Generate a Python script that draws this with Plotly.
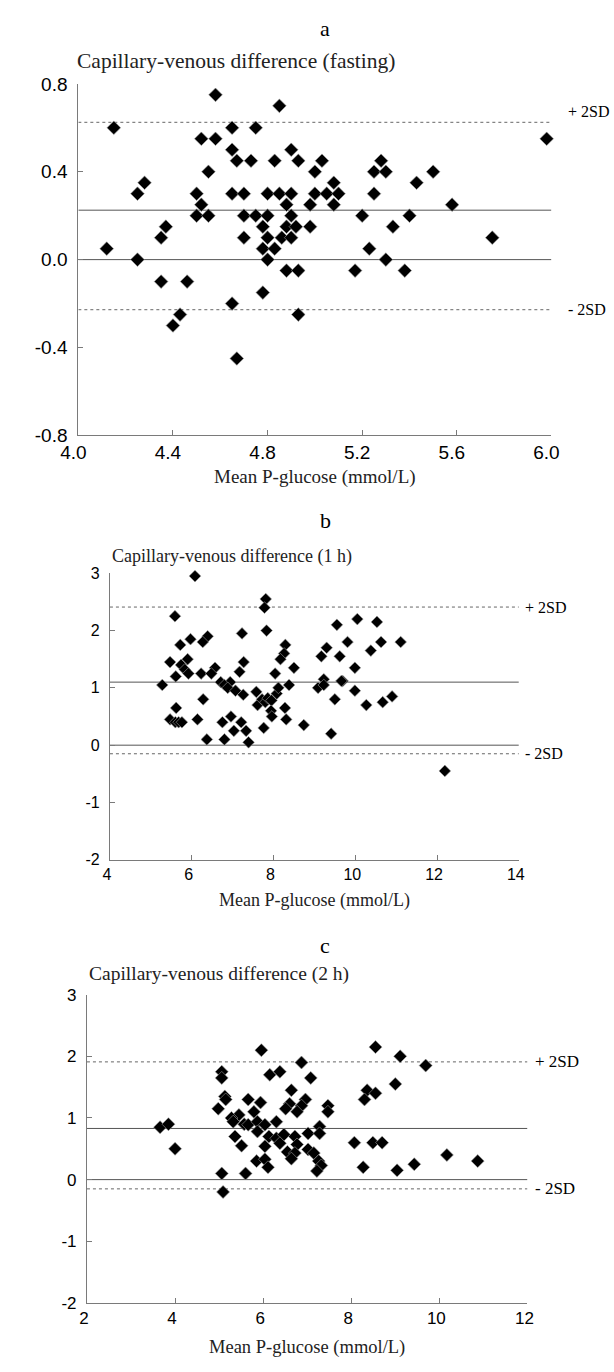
import plotly.graph_objects as go

# ---------------- data ----------------
a_x = [4.15, 4.58, 4.85, 4.65, 4.75, 5.98, 4.52, 4.58, 4.65, 4.90, 4.67, 4.73, 4.83, 4.93, 5.03, 5.28,
       4.55, 5.00, 5.25, 5.30, 5.50, 4.28, 5.08, 5.43, 4.25, 4.50, 4.65, 4.70, 4.80, 4.85, 4.90, 5.00,
       5.05, 5.10, 5.25, 4.52, 4.88, 4.98, 5.08, 5.58, 4.50, 4.55, 4.70, 4.75, 4.80, 4.90, 5.20, 5.40,
       4.37, 4.78, 4.88, 4.92, 4.98, 5.33, 4.12, 4.25, 4.35, 4.35, 4.46, 4.43, 4.40, 4.70, 4.78, 4.80,
       4.83, 4.80, 4.86, 4.90, 4.88, 4.93, 4.93, 4.78, 4.65, 4.67, 5.75, 5.23, 5.30, 5.17, 5.38]
a_y = [0.60, 0.75, 0.70, 0.60, 0.60, 0.55, 0.55, 0.55, 0.50, 0.50, 0.45, 0.45, 0.45, 0.45, 0.45, 0.45,
       0.40, 0.40, 0.40, 0.40, 0.40, 0.35, 0.35, 0.35, 0.30, 0.30, 0.30, 0.30, 0.30, 0.30, 0.30, 0.30,
       0.30, 0.30, 0.30, 0.25, 0.25, 0.25, 0.25, 0.25, 0.20, 0.20, 0.20, 0.20, 0.20, 0.20, 0.20, 0.20,
       0.15, 0.15, 0.15, 0.15, 0.15, 0.15, 0.05, 0.00, 0.10, -0.10, -0.10, -0.25, -0.30, 0.10, 0.05, 0.10,
       0.05, 0.00, 0.10, 0.10, -0.05, -0.05, -0.25, -0.15, -0.20, -0.45, 0.10, 0.05, 0.00, -0.05, -0.05]
a_mean, a_plus, a_minus = 0.225, 0.625, -0.228

b_x = [6.08, 7.81, 7.78, 5.59, 7.83, 10.05, 10.53, 9.55, 7.23, 5.97, 6.39, 6.27, 5.72, 8.29, 9.81, 10.63,
       11.11, 9.30, 10.38, 8.26, 9.17, 9.62, 8.17, 5.90, 5.47, 7.27, 5.74, 5.83, 6.57, 8.50, 9.99, 5.92,
       6.23, 6.48, 7.17, 8.04, 5.61, 6.71, 6.94, 9.23, 9.69, 5.28, 6.80, 6.88, 7.07, 7.26, 6.28, 5.62,
       5.47, 5.60, 5.68, 5.76, 6.14, 6.75, 6.96, 7.21, 7.03, 7.33, 6.37, 6.80, 7.39, 7.76, 7.58, 7.61,
       7.72, 7.80, 7.86, 7.95, 8.08, 8.12, 7.94, 7.96, 8.28, 8.31, 8.38, 8.74, 9.09, 9.23, 9.50, 9.66,
       9.99, 10.27, 10.67, 10.90, 9.41, 12.19]
b_y = [2.95, 2.55, 2.40, 2.25, 2.00, 2.20, 2.15, 2.10, 1.95, 1.85, 1.90, 1.80, 1.75, 1.75, 1.80, 1.80,
       1.80, 1.70, 1.65, 1.60, 1.55, 1.55, 1.50, 1.50, 1.45, 1.45, 1.40, 1.32, 1.35, 1.35, 1.35, 1.25,
       1.25, 1.25, 1.28, 1.25, 1.20, 1.10, 1.10, 1.15, 1.12, 1.05, 1.05, 1.00, 0.95, 0.88, 0.80, 0.65,
       0.45, 0.40, 0.40, 0.40, 0.45, 0.40, 0.50, 0.40, 0.25, 0.25, 0.10, 0.10, 0.05, 0.30, 0.93, 0.70,
       0.80, 0.75, 0.82, 0.78, 0.90, 1.00, 0.60, 0.50, 0.65, 0.45, 1.05, 0.35, 1.00, 1.05, 0.80, 1.12,
       0.95, 0.70, 0.75, 0.85, 0.20, -0.45]
b_mean, b_plus, b_minus = 1.10, 2.41, -0.15

c_x = [5.96, 8.55, 9.11, 6.87, 9.69, 5.06, 5.06, 6.15, 6.38, 7.08, 9.00, 8.36, 8.55, 8.30, 6.64, 5.13,
       5.15, 5.66, 5.94, 6.96, 6.87, 6.60, 6.77, 6.51, 5.79, 4.98, 7.47, 7.47, 5.45, 5.28, 5.32, 5.57,
       5.66, 5.87, 6.04, 6.30, 3.66, 3.85, 4.00, 5.36, 5.51, 5.87, 6.04, 6.13, 6.30, 6.47, 6.38, 6.72,
       6.77, 6.55, 6.72, 6.64, 7.02, 7.28, 7.28, 7.02, 7.15, 7.26, 7.32, 7.22, 5.85, 6.04, 6.11, 5.06,
       5.60, 5.09, 8.07, 8.49, 8.70, 8.27, 9.04, 9.43, 10.17, 10.87]
c_y = [2.10, 2.15, 2.00, 1.90, 1.85, 1.75, 1.65, 1.70, 1.75, 1.65, 1.55, 1.45, 1.40, 1.30, 1.45, 1.35,
       1.30, 1.30, 1.25, 1.30, 1.20, 1.23, 1.10, 1.15, 1.10, 1.15, 1.20, 1.10, 1.05, 1.00, 0.94, 0.90,
       0.89, 0.94, 0.89, 0.94, 0.85, 0.90, 0.50, 0.70, 0.55, 0.78, 0.54, 0.70, 0.67, 0.73, 0.59, 0.70,
       0.57, 0.45, 0.43, 0.34, 0.75, 0.86, 0.75, 0.49, 0.43, 0.30, 0.23, 0.14, 0.30, 0.33, 0.20, 0.10,
       0.10, -0.20, 0.60, 0.60, 0.60, 0.20, 0.15, 0.25, 0.40, 0.30]
c_mean, c_plus, c_minus = 0.83, 1.91, -0.15

a_yticks = [-0.8, -0.4, 0.0, 0.4, 0.8]
a_yticktext = ["-0.8", "-0.4", "0.0", "0.4", "0.8"]
a_xticks = [4.0, 4.4, 4.8, 5.2, 5.6, 6.0]
a_xticktext = ["4.0", "4.4", "4.8", "5.2", "5.6", "6.0"]
bc_yticks = [-2, -1, 0, 1, 2, 3]
bc_yticktext = ["-2", "-1", "0", "1", "2", "3"]
b_xticks = [4, 6, 8, 10, 12, 14]
c_xticks = [2, 4, 6, 8, 10, 12]

panel_letters = ["a", "b", "c"]
captions = ["Capillary-venous difference (fasting)",
            "Capillary-venous difference (1 h)",
            "Capillary-venous difference (2 h)"]
xtitle = "Mean P-glucose (mmol/L)"

# ---------------- layout geometry ----------------
W, H = 614, 1372
def px(x): return x / W
def py(y): return 1 - y / H

AX = "#7a7a7a"
SERIF = "Liberation Serif, Times New Roman, serif"
SANS = "Liberation Sans, Arial, sans-serif"

fig = go.Figure()

panels = [
    dict(x=a_x, y=a_y, xr=[4.0, 6.0], yr=[-0.8, 0.8], xd=[63, 557], yd=[75, 432],
         mean=a_mean, plus=a_plus, minus=a_minus, msize=10.5, tick=19, xshiftlab=-5,
         xt=a_xticks, xtt=a_xticktext, yt=a_yticks, ytt=a_yticktext,
         letter_y=19, cap_x=59, cap_y=52, cap_size=21.5, xtitle_y=474, xtitle_size=19,
         lab_shift=15, plus_shift=11, lab_size=16),
    dict(x=b_x, y=b_y, xr=[4, 14], yr=[-2, 3], xd=[96, 523], yd=[572, 863],
         mean=b_mean, plus=b_plus, minus=b_minus, msize=9, tick=16, xshiftlab=-3,
         xt=b_xticks, xtt=[str(v) for v in b_xticks], yt=bc_yticks, ytt=bc_yticktext,
         letter_y=518, cap_x=96, cap_y=555, cap_size=18, xtitle_y=904, xtitle_size=18,
         lab_shift=4, plus_shift=0, lab_size=16),
    dict(x=c_x, y=c_y, xr=[2, 12], yr=[-2, 3], xd=[72, 532], yd=[1000, 1313],
         mean=c_mean, plus=c_plus, minus=c_minus, msize=10, tick=17, xshiftlab=-3,
         xt=c_xticks, xtt=[str(v) for v in c_xticks], yt=bc_yticks, ytt=bc_yticktext,
         letter_y=950, cap_x=72, cap_y=979, cap_size=19.5, xtitle_y=1358, xtitle_size=18.5,
         lab_shift=6, plus_shift=0, lab_size=17),
]

annotations = []
shapes = []
for i, p in enumerate(panels):
    n = "" if i == 0 else str(i + 1)
    xa, ya = "x" + n, "y" + n
    fig.add_trace(go.Scatter(
        x=p["x"], y=p["y"], mode="markers", xaxis=xa, yaxis=ya,
        marker=dict(symbol="diamond", size=p["msize"], color="black",
                    line=dict(color="#9a9a9a", width=0.6)),
        showlegend=False, cliponaxis=False, hoverinfo="skip"))
    for val, dash, col in [(0, "solid", "#555555"), (p["mean"], "solid", "#555555"),
                           (p["plus"], "dot", "#666666"), (p["minus"], "dot", "#666666")]:
        shapes.append(dict(type="line", xref=xa, yref=ya, x0=p["xr"][0], x1=p["xr"][1],
                           y0=val, y1=val, line=dict(color=col, width=1, dash=dash), layer="below"))
    annotations.append(dict(text="+ 2SD", xref=xa, yref=ya, x=p["xr"][1], y=p["plus"],
                            xanchor="left", yanchor="middle", xshift=p["lab_shift"],
                            yshift=p["plus_shift"], showarrow=False,
                            font=dict(family=SERIF, size=p["lab_size"], color="black")))
    annotations.append(dict(text="- 2SD", xref=xa, yref=ya, x=p["xr"][1], y=p["minus"],
                            xanchor="left", yanchor="middle", xshift=p["lab_shift"],
                            showarrow=False,
                            font=dict(family=SERIF, size=p["lab_size"], color="black")))
    annotations.append(dict(text=panel_letters[i], xref="paper", yref="paper", x=px(321),
                            y=py(p["letter_y"]), xanchor="center", yanchor="middle",
                            showarrow=False, font=dict(family=SERIF, size=22, color="black")))
    annotations.append(dict(text=captions[i], xref="paper", yref="paper", x=px(p["cap_x"]),
                            y=py(p["cap_y"]), xanchor="left", yanchor="middle",
                            showarrow=False, font=dict(family=SERIF, size=p["cap_size"], color="#222")))
    annotations.append(dict(text=xtitle, xref="paper", yref="paper",
                            x=px((p["xd"][0] + p["xd"][1]) / 2), y=py(p["xtitle_y"]),
                            xanchor="center", yanchor="middle", showarrow=False,
                            font=dict(family=SERIF, size=p["xtitle_size"], color="#222")))
    axcommon = dict(showgrid=False, zeroline=False, showline=True, linecolor=AX, linewidth=1,
                    ticks="inside", ticklen=5, tickcolor=AX, tickwidth=1,
                    tickfont=dict(family=SANS, size=p["tick"], color="black"))
    fig.update_layout(**{
        ("xaxis" + n): dict(domain=[px(p["xd"][0]), px(p["xd"][1])], range=p["xr"],
                            anchor=ya, tickvals=p["xt"], ticktext=p["xtt"],
                            ticklabelshift=p["xshiftlab"], **axcommon),
        ("yaxis" + n): dict(domain=[py(p["yd"][1]), py(p["yd"][0])], range=p["yr"],
                            anchor=xa, tickvals=p["yt"], ticktext=p["ytt"],
                            ticklabelstandoff=6, **axcommon),
    })

fig.update_layout(width=W, height=H, autosize=False, margin=dict(l=0, r=0, t=0, b=0),
                  paper_bgcolor="white", plot_bgcolor="white",
                  annotations=annotations, shapes=shapes)

fig.write_html("out.html", config={"displayModeBar": False},
               post_script="document.body.style.margin='0';document.body.style.padding='0';"
                           "document.documentElement.style.overflow='hidden';")
